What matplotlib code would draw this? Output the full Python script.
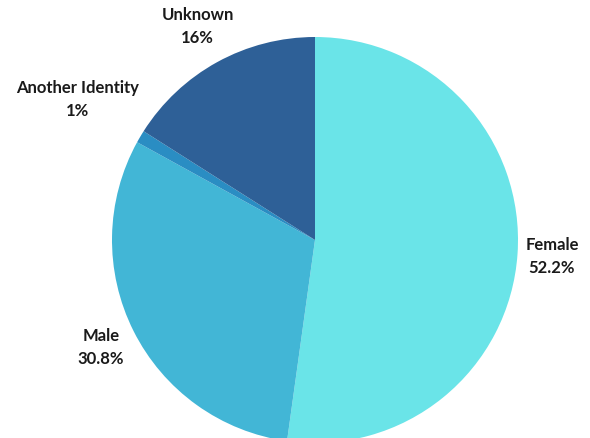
import matplotlib.pyplot as plt
import numpy as np

labels = ['Female', 'Male', 'Another Identity', 'Unknown']
shares = [52.2, 30.8, 1.0, 16.0]
pct_text = ['52.2%', '30.8%', '1%', '16%']
colors = ['#6ae4e8', '#42b6d6', '#2a8dc3', '#2e6097']
label_dist = [1.17, 1.18, 1.36, 1.2]

plt.rcParams['font.family'] = ['Lato', 'DejaVu Sans']

fig = plt.figure(figsize=(5.9, 4.38), dpi=100)
ax = fig.add_axes([112 / 590, -5 / 438, 406 / 590, 406 / 438])
wedges, _ = ax.pie(shares, colors=colors, startangle=90, counterclock=False,
                   radius=1.0, wedgeprops=dict(linewidth=0))
ax.set_xlim(-1, 1)
ax.set_ylim(-1, 1)
ax.set_aspect('equal')
ax.axis('off')

for w, lab, pt, d in zip(wedges, labels, pct_text, label_dist):
    ang = np.deg2rad((w.theta1 + w.theta2) / 2)
    ax.text(d * np.cos(ang), d * np.sin(ang), f'{lab}\n{pt}',
            ha='center', va='center', fontsize=12, fontweight='bold',
            color='#1a1a1a', linespacing=1.6, clip_on=False)

fig.savefig('out.png', dpi=100)
